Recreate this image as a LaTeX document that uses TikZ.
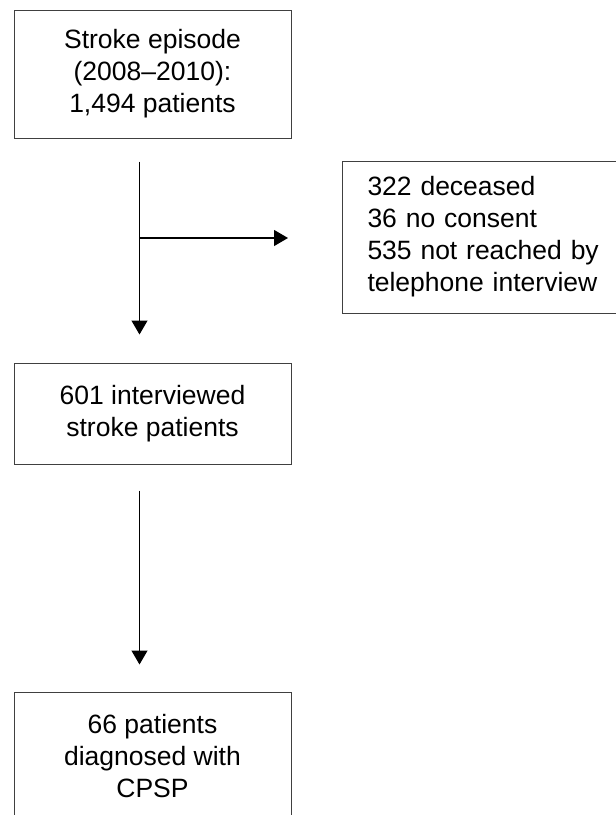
\documentclass[tikz,border=0pt]{standalone}
\usepackage{fontspec}
\setmainfont{Liberation Sans}
\usetikzlibrary{arrows.meta}
\tikzset{
  box/.style={draw=black!75, line width=1pt, inner sep=0pt, minimum width=277pt,
    align=center, font=\fontsize{26.5}{32}\selectfont},
  arr/.style={draw=black, line width=1.2pt, -{Triangle[width=16pt,length=14pt]}}
}
\begin{document}
\begin{tikzpicture}[x=1pt,y=-1pt]
\useasboundingbox (0,0) rectangle (616,815);
\clip (0,0) rectangle (616,815);
\node[box, minimum height=128pt] (b1) at (152.5,74) {Stroke episode\\(2008--2010):\\1,494 patients};
\node[box, minimum height=152pt, anchor=west, align=left,
      text width=320pt, inner xsep=0pt] (b2) at (342,237)
      {\hspace*{25pt}322 deceased\\\hspace*{25pt}36 no consent\\\hspace*{25pt}535 not reached by\\\hspace*{25pt}telephone interview};
\node[box, minimum height=101pt] (b3) at (152.5,413.5) {601 interviewed\\stroke patients};
\node[box, minimum height=128pt] (b4) at (152.5,756) {66 patients\\diagnosed with\\CPSP};
\draw[arr, shorten <=23pt, shorten >=28pt] ([xshift=-13pt]b1.south) -- ([xshift=-13pt]b3.north);
\coordinate (br) at (139.5,238);
\draw[arr, shorten >=54pt] (br) -- (br -| b2.west);
\draw[arr, shorten <=26pt, shorten >=27pt] ([xshift=-13pt]b3.south) -- ([xshift=-13pt]b4.north);
\end{tikzpicture}
\end{document}
